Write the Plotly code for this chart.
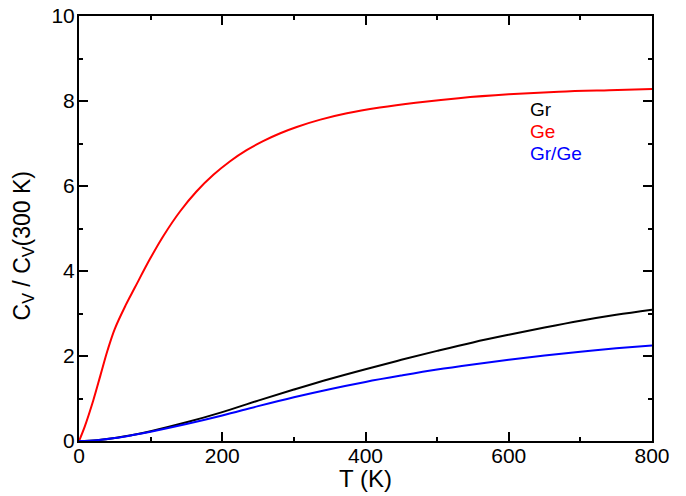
import plotly.graph_objects as go

# Ge curve
T_ge = [0, 8, 20, 30, 40, 50, 65, 78, 99, 118, 141, 164, 188, 211, 234, 257, 281,
        304, 337, 374, 420, 470, 530, 600, 670, 740, 800]
cv_ge = [0, 0.34, 0.96, 1.55, 2.14, 2.64, 3.19, 3.61, 4.28, 4.83, 5.40, 5.87, 6.268,
         6.583, 6.843, 7.057, 7.242, 7.389, 7.561, 7.71, 7.845, 7.958, 8.066, 8.157,
         8.22, 8.255, 8.28]

# Gr and Gr/Ge curves
T_gr = [0, 25, 50, 75, 100, 150, 200, 250, 300, 350, 400, 450, 500, 550, 600,
        650, 700, 750, 800]
cv_gr = [0, 0.02, 0.07, 0.14, 0.23, 0.44, 0.68, 0.95, 1.21, 1.46, 1.69, 1.91,
         2.12, 2.32, 2.50, 2.67, 2.83, 2.97, 3.09]
cv_grge = [0, 0.02, 0.07, 0.14, 0.22, 0.40, 0.60, 0.82, 1.03, 1.22, 1.39, 1.54,
           1.68, 1.80, 1.91, 2.01, 2.10, 2.18, 2.25]

labels = ["Gr", "Ge", "Gr/Ge"]
colors = ["black", "red", "blue"]
label_y = [7.80, 7.28, 6.76]
label_x = 627

x_ticks = [0, 200, 400, 600, 800]
y_ticks = [0, 2, 4, 6, 8, 10]

FONT = "Liberation Sans"

fig = go.Figure()
fig.add_trace(go.Scatter(x=T_gr, y=cv_gr, mode="lines",
                         line=dict(color="black", width=2, shape="spline", smoothing=1.0), name="Gr"))
fig.add_trace(go.Scatter(x=T_ge, y=cv_ge, mode="lines",
                         line=dict(color="red", width=2, shape="spline", smoothing=1.0), name="Ge"))
fig.add_trace(go.Scatter(x=T_gr, y=cv_grge, mode="lines",
                         line=dict(color="blue", width=2, shape="spline", smoothing=1.0), name="Gr/Ge"))

for lab, col, yy in zip(labels, colors, label_y):
    fig.add_annotation(x=label_x, y=yy, text=lab, showarrow=False, xanchor="left",
                       yanchor="middle", font=dict(color=col, size=19, family=FONT))

# axis titles placed as annotations for precise positioning
fig.add_annotation(xref="paper", yref="paper", x=0.5, y=-0.088, text="T (K)",
                   showarrow=False, xanchor="center", yanchor="middle",
                   font=dict(size=24, family=FONT, color="black"))
fig.add_annotation(xref="paper", yref="paper", x=-0.0969, y=0.459,
                   text="C<sub>V</sub> / C<sub>V</sub>(300 K)", textangle=-90,
                   showarrow=False, xanchor="center", yanchor="middle",
                   font=dict(size=23, family=FONT, color="black"))

axis_common = dict(showline=True, linecolor="black", linewidth=2, mirror="allticks",
                   ticks="inside", ticklen=9, tickwidth=2, tickcolor="black",
                   showgrid=False, zeroline=False, automargin=False,
                   ticklabeloverflow="allow",
                   tickfont=dict(size=21, family=FONT, color="black"))

fig.update_xaxes(range=[0, 800], tickvals=x_ticks, ticklabelstandoff=-5,
                 minor=dict(ticks="inside", dtick=100, ticklen=4, tickwidth=2,
                            tickcolor="black", showgrid=False),
                 **axis_common)
fig.update_yaxes(range=[0, 10], tickvals=y_ticks, ticklabelstandoff=-2,
                 minor=dict(ticks="inside", dtick=1, ticklen=4, tickwidth=2,
                            tickcolor="black", showgrid=False),
                 **axis_common)

fig.update_layout(width=686, height=496, margin=dict(l=71, r=42, t=8, b=63),
                  plot_bgcolor="white", paper_bgcolor="white", showlegend=False)

fig.write_html("out.html")
